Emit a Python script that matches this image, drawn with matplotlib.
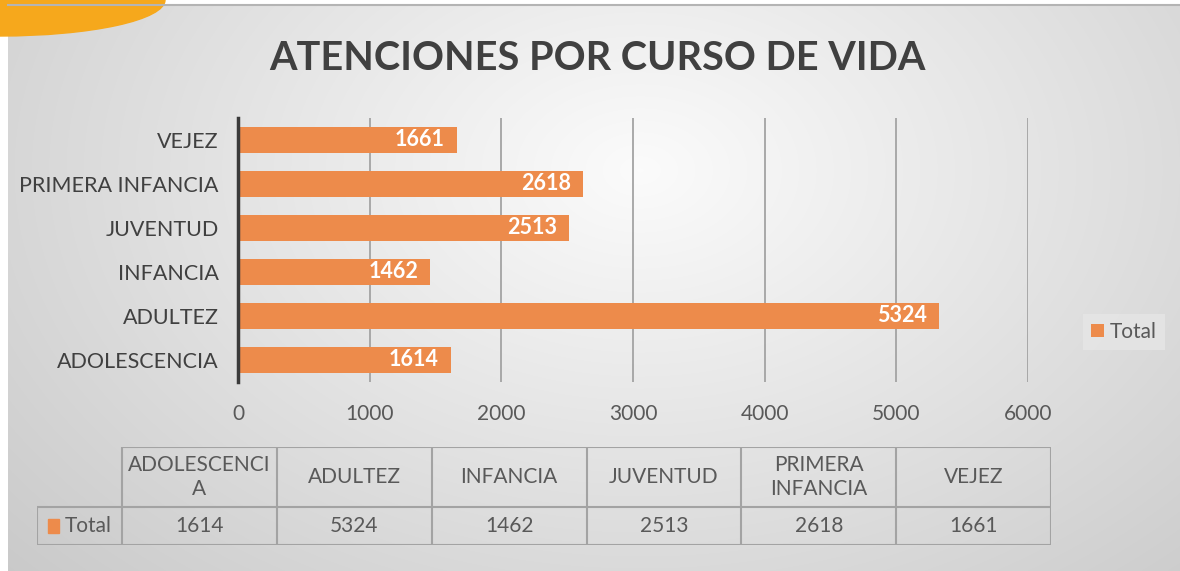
import numpy as np
import matplotlib.pyplot as plt
from matplotlib.patches import Ellipse, Rectangle

plt.rcParams['font.family'] = ['Lato', 'DejaVu Sans']

# datos
categorias = ['ADOLESCENCIA', 'ADULTEZ', 'INFANCIA', 'JUVENTUD', 'PRIMERA INFANCIA', 'VEJEZ']
totales = [1614, 5324, 1462, 2513, 2618, 1661]
encabezados_tabla = ['ADOLESCENCI\nA', 'ADULTEZ', 'INFANCIA', 'JUVENTUD', 'PRIMERA\nINFANCIA', 'VEJEZ']
ticks_x = [0, 1000, 2000, 3000, 4000, 5000, 6000]
serie = 'Total'
titulo = 'ATENCIONES POR CURSO DE VIDA'

W, H = 1180, 571
NARANJA = '#ED8B4B'
GRIS_TEXTO = '#595959'
GRIS_LINEA = '#a3a3a3'

fig = plt.figure(figsize=(W / 100, H / 100), dpi=100)

# fondo degradado
bg = fig.add_axes([0, 0, 1, 1])
yy, xx = np.mgrid[0:H, 0:W]
r = np.sqrt(((xx - 640) / 750) ** 2 + ((yy - 170) / 520) ** 2)
val = np.clip(0.985 - 0.17 * r, 0.78, 1)
img = np.dstack([val] * 3)
img[(xx < 8) | (yy < 5)] = 1.0
bg.imshow(img, extent=[0, W, H, 0], aspect='auto')
bg.set_xlim(0, W)
bg.set_ylim(H, 0)
bg.plot([8, W], [5, 5], color='#b4b4b4', lw=1.5)
bg.add_patch(Ellipse((0, 0), 330, 72, color='#F6A81C'))
bg.axis('off')

# grafico de barras
ax = fig.add_axes([238 / W, 1 - 382 / H, (1028 - 238) / W, (382 - 118) / H])
ax.patch.set_alpha(0)
y = np.arange(len(categorias))
barras = ax.barh(y, totales, height=0.57, color=NARANJA, zorder=3, label=serie)
ax.set_xlim(0, 6000)
ax.set_ylim(-0.5, len(categorias) - 0.5)
ax.set_xticks(ticks_x)
ax.set_yticks(y, categorias)
ax.grid(axis='x', color=GRIS_LINEA, lw=1.3, zorder=0)
for s in ['top', 'right', 'bottom']:
    ax.spines[s].set_visible(False)
ax.spines['left'].set_color('#3a3a3a')
ax.spines['left'].set_linewidth(2.5)
ax.spines['left'].set_zorder(4)
ax.tick_params(axis='x', length=0, pad=16, labelsize=15, labelcolor=GRIS_TEXTO)
ax.tick_params(axis='y', length=0, pad=14, labelsize=15.5, labelcolor='#404040')

for yi, v in zip(y, totales):
    ax.annotate(str(v), (v, yi), xytext=(-12, 0), textcoords='offset pixels',
                ha='right', va='center', color='white', fontweight='bold',
                fontsize=15.5, zorder=5)

fig.text(597 / W, 1 - 58 / H, titulo, ha='center', va='center',
         fontsize=28.5, fontweight='bold', color='#404040')

fig.legend(handles=[barras], labels=[serie], loc='center',
           bbox_to_anchor=(1124 / W, 1 - 332 / H), frameon=True,
           facecolor='#e6e6e6', edgecolor='none', fancybox=False, framealpha=0.8,
           handlelength=0.6, handleheight=0.6, handletextpad=0.3,
           fontsize=15, labelcolor=GRIS_TEXTO, borderpad=0.4)

# tabla de datos
tax = fig.add_axes([37 / W, 1 - 545 / H, (1051 - 37) / W, (545 - 447) / H])
tax.patch.set_alpha(0)
n = len(categorias)
lab_w = 85 / 154.8
top = 98 / 38
tax.set_xlim(-lab_w, n)
tax.set_ylim(0, top)
tax.axis('off')
kw = dict(color=GRIS_LINEA, lw=1.5, solid_capstyle='butt')
tax.plot([-lab_w, n], [0, 0], **kw)
tax.plot([-lab_w, n], [1, 1], **kw)
tax.plot([0, n], [top, top], **kw)
tax.plot([-lab_w, -lab_w], [0, 1], **kw)
for i in range(n + 1):
    tax.plot([i, i], [0, top], **kw)
for i, (enc, v) in enumerate(zip(encabezados_tabla, totales)):
    tax.text(i + 0.5, (1 + top) / 2, enc, ha='center', va='center',
             fontsize=15, color=GRIS_TEXTO, linespacing=1.3)
    tax.text(i + 0.5, 0.5, str(v), ha='center', va='center',
             fontsize=15, color=GRIS_TEXTO)
tax.add_patch(Rectangle((-lab_w + 11 / 154.8, 0.32), 11 / 154.8, 0.36,
                        color=NARANJA))
tax.text(-lab_w + 28 / 154.8, 0.5, serie, ha='left', va='center',
         fontsize=15, color=GRIS_TEXTO)

fig.savefig('out.png', dpi=100)
